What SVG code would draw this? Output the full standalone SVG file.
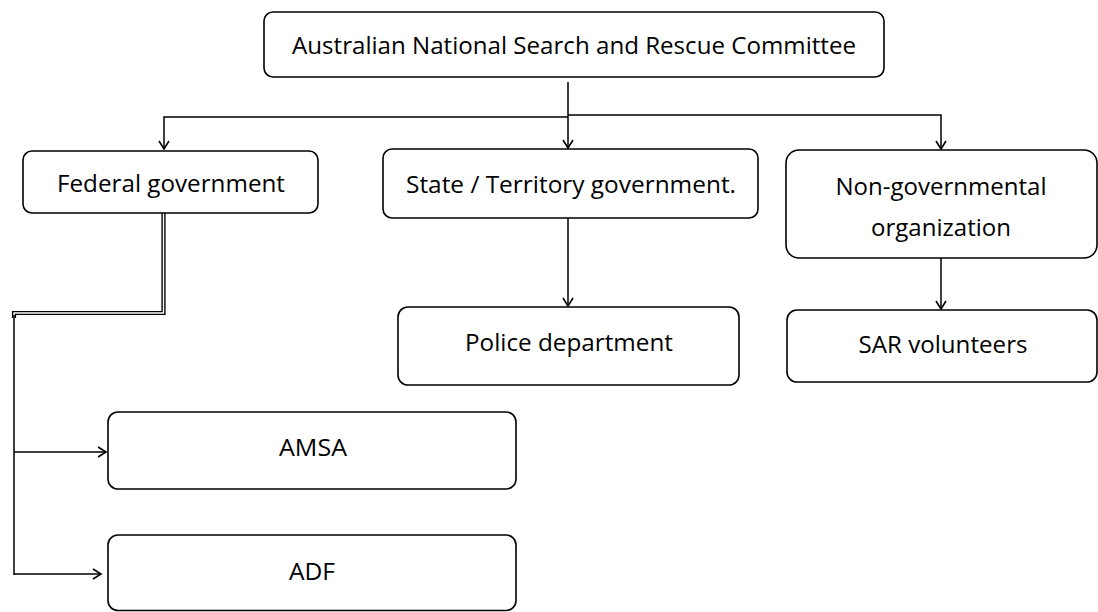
<svg xmlns="http://www.w3.org/2000/svg" width="1098" height="612" viewBox="0 0 1098 612">
  <style>
    .box { fill: #ffffff; stroke: #000000; stroke-width: 1.6; }
    .lbl { font-family: "Open Sans", "Liberation Sans", sans-serif; font-size: 23px; fill: #000000; text-anchor: middle; }
    .wire { fill: none; stroke: #000000; stroke-width: 1.5; }
    .arrow { marker-end: url(#chev); }
  </style>
  <defs>
    <marker id="chev" markerUnits="userSpaceOnUse" markerWidth="14" markerHeight="14" viewBox="-10 -7 12 14" refX="0" refY="0" orient="auto">
      <path d="M -8 -5 L 0 0 L -8 5" fill="none" stroke="#000000" stroke-width="1.6"/>
    </marker>
  </defs>

  <rect width="1098" height="612" fill="#ffffff"/>

  <!-- connectors -->
  <g id="connectors">
    <!-- committee trunk and branches -->
    <path class="wire" d="M 568 82 L 568 117" stroke-width="2.5"/>
    <path class="wire arrow" d="M 568 117 L 164 117 L 164 149"/>
    <path class="wire arrow" d="M 568 115 L 941 115 L 941 149"/>
    <path class="wire arrow" d="M 568 117 L 568 148"/>
    <!-- state to police -->
    <path class="wire arrow" d="M 568 218 L 568 306"/>
    <!-- ngo to volunteers -->
    <path class="wire arrow" d="M 941 258 L 941 309"/>
    <!-- federal double-rule drop -->
    <path d="M 163.5 213 L 163.5 313 L 14 313 L 14 318" fill="none" stroke="#000000" stroke-width="4.2"/>
    <path d="M 163.5 213 L 163.5 313 L 14 313 L 14 318" fill="none" stroke="#ffffff" stroke-width="1.4"/>
    <path class="wire" d="M 14 315 L 14 575" stroke-width="2"/>
    <path class="wire arrow" d="M 14 452 L 106 452"/>
    <path class="wire arrow" d="M 14 574 L 101 574"/>
  </g>

  <g id="committee">
    <rect class="box" x="264" y="12" width="620" height="65" rx="9"/>
    <text class="lbl" x="574" y="54" textLength="564" lengthAdjust="spacingAndGlyphs">Australian National Search and Rescue Committee</text>
  </g>

  <g id="federal">
    <rect class="box" x="23" y="151" width="295" height="62" rx="9"/>
    <text class="lbl" x="171" y="192" textLength="228" lengthAdjust="spacingAndGlyphs">Federal government</text>
  </g>

  <g id="state">
    <rect class="box" x="383" y="149" width="375" height="69" rx="9"/>
    <text class="lbl" x="571" y="193" textLength="330" lengthAdjust="spacingAndGlyphs">State / Territory government.</text>
  </g>

  <g id="ngo">
    <rect class="box" x="786" y="150" width="311" height="108" rx="13"/>
    <text class="lbl" x="941" y="195" textLength="211" lengthAdjust="spacingAndGlyphs">Non-governmental</text>
    <text class="lbl" x="941" y="236" textLength="140" lengthAdjust="spacingAndGlyphs">organization</text>
  </g>

  <g id="police">
    <rect class="box" x="398" y="307" width="341" height="78" rx="10"/>
    <text class="lbl" x="569" y="351" textLength="208" lengthAdjust="spacingAndGlyphs">Police department</text>
  </g>

  <g id="volunteers">
    <rect class="box" x="787" y="310" width="310" height="72" rx="10"/>
    <text class="lbl" x="943" y="353" textLength="169" lengthAdjust="spacingAndGlyphs">SAR volunteers</text>
  </g>

  <g id="amsa">
    <rect class="box" x="108" y="412" width="408" height="77" rx="10"/>
    <text class="lbl" x="313" y="456" textLength="68" lengthAdjust="spacingAndGlyphs">AMSA</text>
  </g>

  <g id="adf">
    <rect class="box" x="108" y="535" width="408" height="75.5" rx="10"/>
    <text class="lbl" x="312" y="580" textLength="46" lengthAdjust="spacingAndGlyphs">ADF</text>
  </g>
</svg>
